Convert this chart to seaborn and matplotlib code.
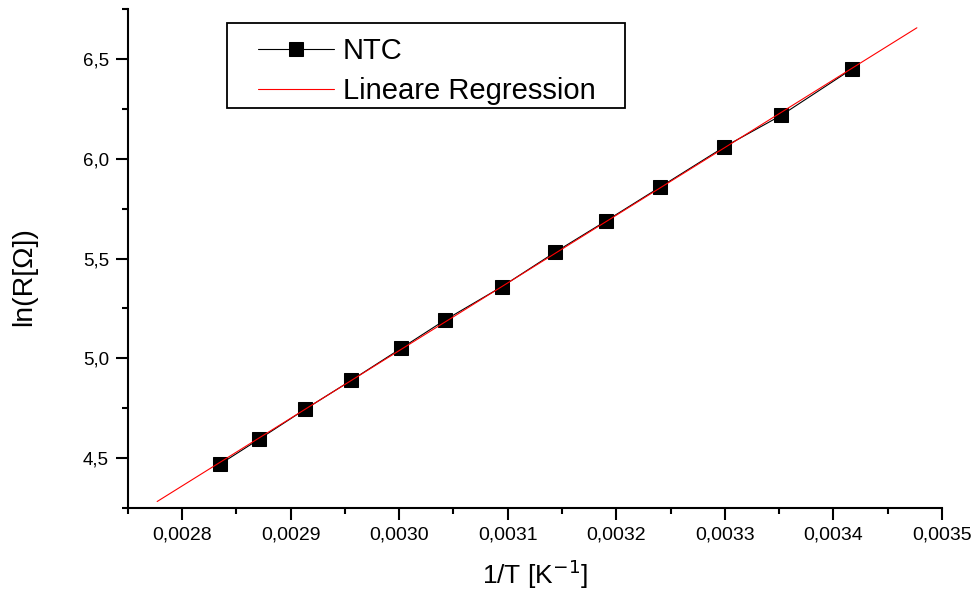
import matplotlib
matplotlib.use("Agg")
import matplotlib.pyplot as plt
import numpy as np
import pandas as pd
import seaborn as sns
from matplotlib.patches import Rectangle
from matplotlib.ticker import FuncFormatter, MultipleLocator

# measured data: inverse temperature and log resistance of the NTC
inv_temp = [0.0028346, 0.0028712, 0.0029133, 0.0029559, 0.0030020, 0.0030425, 0.0030949,
            0.0031437, 0.0031907, 0.0032404, 0.0032994, 0.0033519, 0.0034173]
ln_r = [4.469, 4.596, 4.745, 4.890, 5.051, 5.193, 5.360,
        5.532, 5.689, 5.858, 6.059, 6.217, 6.450]

# x range over which the regression line is drawn
fit_range = [0.002777, 0.003477]

sns.set_style("ticks")
plt.rcParams["font.family"] = ["Liberation Sans", "DejaVu Sans"]
plt.rcParams["text.color"] = "black"
plt.rcParams["axes.labelcolor"] = "black"
plt.rcParams["xtick.color"] = "black"
plt.rcParams["ytick.color"] = "black"
plt.rcParams["axes.edgecolor"] = "black"

data = pd.DataFrame({"x": inv_temp, "y": ln_r})
coef = np.polyfit(data["x"], data["y"], 1)
fit = pd.DataFrame({"x": fit_range, "y": np.polyval(coef, fit_range)})

fig = plt.figure(figsize=(9.76, 6.02), dpi=100)
ax = fig.add_axes([0.131, 0.156, 0.834, 0.829])

sns.lineplot(data=data, x="x", y="y", ax=ax, color="black", linewidth=0.8,
             marker="s", markersize=10, markeredgecolor="black", label="NTC")
sns.lineplot(data=fit, x="x", y="y", ax=ax, color="red", linewidth=0.8,
             label="Lineare Regression")

ax.set_xlim(0.00275, 0.0035)
ax.set_ylim(4.25, 6.75)
ax.xaxis.set_major_locator(MultipleLocator(0.0001))
ax.xaxis.set_minor_locator(MultipleLocator(0.00005))
ax.yaxis.set_major_locator(MultipleLocator(0.5))
ax.yaxis.set_minor_locator(MultipleLocator(0.25))
ax.xaxis.set_major_formatter(FuncFormatter(lambda v, p: f"{v:.4f}".replace(".", ",")))
ax.yaxis.set_major_formatter(FuncFormatter(lambda v, p: f"{v:.1f}".replace(".", ",")))

ax.tick_params(which="major", direction="out", length=8.5, width=1.5, pad=5)
ax.tick_params(axis="x", which="major", labelsize=14)
ax.tick_params(axis="y", which="major", labelsize=13.5)
ax.tick_params(which="minor", direction="out", length=4.5, width=1.5)
for side in ("left", "bottom"):
    ax.spines[side].set_linewidth(1.5)
sns.despine(ax=ax)

ax.set_xlabel("1/T [K$^{-1}$]", fontsize=19, labelpad=10)
ax.set_ylabel("ln(R[Ω])", fontsize=20.5)
ax.yaxis.set_label_coords(-0.112, 0.463)

# legend entries without frame, box drawn separately
leg = ax.legend(loc="upper left", bbox_to_anchor=(0.142, 0.973), fontsize=21,
                frameon=False, handlelength=2.6, numpoints=1,
                borderpad=0, labelspacing=0.4, handletextpad=0.3)
ax.add_patch(Rectangle((0.1216, 0.801), 0.489, 0.1715, transform=ax.transAxes,
                       fill=False, edgecolor="black", linewidth=1.3, zorder=5))

fig.savefig("out.png", dpi=100)
